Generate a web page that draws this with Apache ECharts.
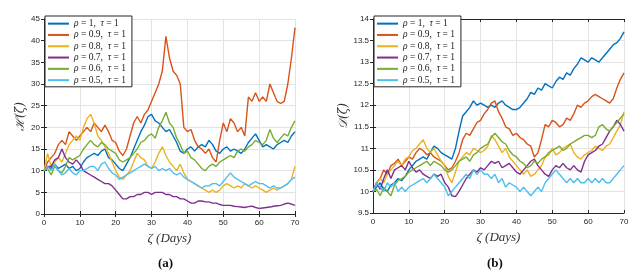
<!DOCTYPE html>
<html><head><meta charset="utf-8">
<script src="https://cdn.jsdelivr.net/npm/echarts@6/dist/echarts.min.js"></script>
<style>html,body{margin:0;padding:0;background:#fff}#c{width:641px;height:278px}</style>
</head><body><div id="c"></div>
<script>
const days = [];
for (let d = 0; d <= 70; d++) days.push(d);
const xTicks = [0,10,20,30,40,50,60,70];
const seriesNames = ['ρ = 1,  τ = 1','ρ = 0.9,  τ = 1','ρ = 0.8,  τ = 1','ρ = 0.7,  τ = 1','ρ = 0.6,  τ = 1','ρ = 0.5,  τ = 1'];
const colors = ['#0072BD','#D95319','#EDB120','#7E2F8E','#77AC30','#4DBEEE'];

// Panel (a): H(zeta)
const hRho10 = [10,11,10.5,11.5,10.5,11,11.5,10.5,11,10,10.5,12,13,13.5,14,13.5,14.5,15,13,12.5,11.5,10.5,10,11.5,13,15,17,19,20.5,22.5,23,21.5,21,20,19,19.5,18,16.5,14.5,14,15,15.5,14.5,15.5,16,15.5,17,16,14.5,14,15,15.5,14.5,15,14.5,14,15,16.5,17.5,18.5,17,15.5,16,15.5,15,16,16.5,17,16.5,18,19];
const hRho09 = [10,12,13,14,16,17,16,19,18,17,18,19,20,19,21,20,19,20.5,19,17,16.5,14.5,13.5,15,18,21,22.5,21,23,24,26,28,30,33,41,36,33,32,30,20,19,19.5,17,15.5,15,14,15,13,12,17,21,19,22,21,19,20,18,27,26,28,26,27,26,30,28,26,25.5,26,30,36,43];
const hRho08 = [10,14,11,12,13,12,14,16,17,18,17,20,22,23,21,18,17,15.5,14,12,10,8.5,8,9,10,12,14,13,12.5,11,10.5,12,14,15.5,13.5,12,11,10,11.5,9.5,8,7.5,7,6.5,6,5.5,5,5.5,5,5.5,6.5,7,6.5,6,6.5,6,7,6.5,6,6.5,6,5.5,5,5.5,6,5.5,6,6.5,7,8,11];
const hRho07 = [10,11,11,12.5,13,15,13,12,11.5,12.5,11.5,10,9.5,9,8.5,8,7.5,7,7,6.5,5.5,4.5,3.5,3.5,4,4,4.5,4.5,5,5,4.5,5,5,5,4.5,4.5,4,4,3.5,3.5,3,2.5,2.5,3,3,2.8,2.8,2.5,2.5,2.2,2,2,2,1.8,1.7,1.6,1.5,1.7,1.8,1.5,1.3,1.4,1.5,1.6,1.8,1.9,2,2.3,2.5,2.3,2];
const hRho06 = [10,10.5,9,11,10,9.5,11,13,12.5,13,13.5,15,16,17,16,15.5,16.5,16,15,14.5,14,12.5,12,12.5,13,14,15,16.5,17,18,18.5,17.5,20,21.5,23.5,21,20,17.5,16,14,14.5,13,12.5,11.5,10.5,10,11,11.5,11,12,12.5,13,13.5,13,14.5,15,14.5,15.5,16,17,16.5,16,17,19.5,17.5,16.5,17.5,18.5,18,20,21.5];
const hRho05 = [10,11,10,11.5,10,9,9.5,10.5,9.5,9,10,10,10.5,11,11,10,11.5,12,10.5,9.5,9,8,8.5,9,9.5,10,10.5,11,11.5,11,10.5,11,10,10.5,10,10.5,9.5,9,9.5,8.5,8,7.5,7,6.5,6,6.5,6.5,7,7,6.5,7.5,8.5,9.5,8.5,8,7.5,7,6.5,7,7.5,7,7,6.5,6,6.5,6,6,6.5,7,8,8.5];
const hTicks = [0,5,10,15,20,25,30,35,40,45];

// Panel (b): D(zeta)
const dRho10 = [10,10.1,10.2,10.05,10,10.15,10.2,10.3,10.25,10.35,10.5,10.6,10.7,10.75,10.8,10.75,10.9,11.05,11,10.9,10.85,10.8,10.75,11,11.4,11.75,11.85,11.95,12.1,12,12.05,12,11.95,12,11.95,12.05,12.1,12,11.95,11.9,11.9,11.95,12.05,12.15,12.3,12.25,12.4,12.35,12.5,12.45,12.4,12.55,12.65,12.6,12.75,12.7,12.85,12.95,13.1,13.05,13,13.1,13.05,13,13.1,13.2,13.3,13.4,13.45,13.55,13.7];
const dRho09 = [10,10.2,10.3,10.5,10.4,10.6,10.65,10.75,10.6,10.7,10.8,10.75,10.9,11,10.95,10.85,10.9,10.8,10.75,10.7,10.6,10.5,10.55,10.7,10.9,11.2,11.35,11.3,11.45,11.6,11.65,11.8,11.9,12.05,12.1,11.85,11.7,11.5,11.45,11.3,11.35,11.25,11.2,11.1,11.05,10.8,10.9,11.2,11.55,11.5,11.65,11.6,11.5,11.55,11.7,11.65,11.8,12,11.95,12.05,12.1,12.2,12.25,12.2,12.15,12.1,12.05,12.15,12.4,12.6,12.75];
const dRho08 = [10,10.2,10.3,10.2,10.4,10.5,10.6,10.7,10.6,10.75,10.8,10.95,11,11.1,11.2,11,10.9,11,10.85,10.7,10.6,10.35,10.2,10.45,10.7,10.8,10.9,10.85,11,10.95,10.9,10.95,11.05,11.3,11.2,11.05,10.9,11,10.8,10.7,10.6,10.5,10.4,10.5,10.35,10.4,10.5,10.6,10.8,10.85,11,10.85,10.9,11,11.05,11.1,10.9,10.8,10.75,10.85,10.9,10.95,11.05,11,10.95,11.05,11.1,11.25,11.4,11.55,11.85];
const dRho07 = [10,10.2,10.05,10.3,10.5,10.3,10.5,10.55,10.6,10.5,10.7,10.55,10.45,10.5,10.4,10.35,10.3,10.4,10.35,10.4,10.2,10.1,9.9,9.88,10,10.15,10.3,10.4,10.5,10.45,10.55,10.5,10.6,10.7,10.65,10.7,10.55,10.6,10.65,10.55,10.45,10.4,10.5,10.6,10.7,10.75,10.6,10.5,10.4,10.35,10.5,10.6,10.55,10.65,10.55,10.5,10.6,10.5,10.45,10.7,10.85,10.9,10.95,11.05,11.1,11.25,11.4,11.5,11.65,11.55,11.4];
const dRho06 = [10,10.05,9.9,10.1,10,9.9,10.15,10.25,10.3,10.35,10.45,10.5,10.55,10.6,10.65,10.7,10.6,10.7,10.65,10.6,10.5,10.45,10.5,10.6,10.7,10.75,10.8,10.7,10.85,10.9,11,11.05,11.1,11.25,11.35,11.25,11.15,11.1,10.95,10.85,10.8,10.7,10.65,10.55,10.6,10.7,10.65,10.75,10.8,10.9,10.95,11,11.05,10.95,11,11.1,11.15,11.2,11.25,11.3,11.3,11.25,11.3,11.5,11.55,11.45,11.4,11.5,11.6,11.7,11.8];
const dRho05 = [10,10.2,10.1,10,10.2,10.1,10.2,10,10.1,10,10.1,10.15,10.2,10.25,10.3,10.2,10.3,10.4,10.3,10.2,10.1,9.9,10,10.1,10.2,10.3,10.4,10.3,10.5,10.4,10.5,10.4,10.4,10.3,10.4,10.2,10.3,10.1,10.2,10.15,10.1,10,10.1,10,9.9,10,10.1,10,10.2,10.3,10.4,10.5,10.4,10.3,10.2,10.3,10.2,10.3,10.2,10.2,10.3,10.2,10.3,10.2,10.3,10.2,10.2,10.3,10.4,10.5,10.6];
const dTicks = [9.5,10,10.5,11,11.5,12,12.5,13,13.5,14];

const panelA = [hRho10,hRho09,hRho08,hRho07,hRho06,hRho05];
const panelB = [dRho10,dRho09,dRho08,dRho07,dRho06,dRho05];

const axisColor = '#262626';
const tickFont = {fontFamily:'Liberation Sans, Arial, sans-serif', fontSize:8, color:axisColor};
const gridLine = {show:true, lineStyle:{color:'#e3e3e3', width:1}};

function xAx(gi, pos) {
  const main = pos === 'bottom';
  return {
    type:'value', gridIndex:gi, position:pos, min:xTicks[0], max:xTicks[xTicks.length-1], interval:10,
    axisLine:{show:true, lineStyle:{color:axisColor, width:1}},
    axisTick:{show:true, inside:true, length:3, lineStyle:{color:axisColor}},
    axisLabel:{show:main, margin:5, ...tickFont},
    splitLine: main ? gridLine : {show:false},
    name: main ? 'ζ (Days)' : '', nameLocation:'middle', nameGap:17,
    nameTextStyle:{fontFamily:'Liberation Serif, DejaVu Serif, serif', fontStyle:'italic', fontSize:13, color:'#333'}
  };
}
function yAx(gi, pos, ticks, name, gap) {
  const main = pos === 'left';
  return {
    type:'value', gridIndex:gi, position:pos, min:ticks[0], max:ticks[ticks.length-1], interval:ticks[1]-ticks[0],
    axisLine:{show:true, lineStyle:{color:axisColor, width:1}},
    axisTick:{show:true, inside:true, length:3, lineStyle:{color:axisColor}},
    axisLabel:{show:main, margin:4, ...tickFont},
    splitLine: main ? gridLine : {show:false},
    name: main ? name : '', nameLocation:'middle', nameGap:gap, nameRotate:90,
    nameTextStyle:{fontFamily:'DejaVu Serif, Liberation Serif, serif', fontStyle:'italic', fontSize:12, color:'#333'}
  };
}

const series = [];
[panelA, panelB].forEach((panel, gi) => {
  panel.forEach((vals, k) => {
    series.push({
      name: seriesNames[k], type:'line', xAxisIndex: gi*2, yAxisIndex: gi*2,
      data: days.map((d,i) => [d, vals[i]]),
      showSymbol:false, symbol:'none', smooth:false,
      lineStyle:{color:colors[k], width:1.4}, itemStyle:{color:colors[k]},
      animation:false, z: 2+k
    });
  });
});

function legend(left) {
  return {
    data: seriesNames, orient:'vertical', left:left, top:16, itemGap:0,
    itemWidth:21, itemHeight:2, icon:'rect',
    backgroundColor:'#fff', borderColor:'#262626', borderWidth:1, padding:[2,6,1,3],
    formatter: n => n.replace('ρ','{i|ρ}').replace('τ','{i|τ}'),
    textStyle:{fontFamily:'Liberation Serif, serif', fontSize:9.5, color:'#222', lineHeight:11.3,
      rich:{i:{fontFamily:'Liberation Serif, serif', fontStyle:'italic', fontSize:9.5, color:'#222'}}},
    selectedMode:false
  };
}

const chart = echarts.init(document.getElementById('c'), null, {renderer:'canvas'});
chart.setOption({
  animation:false,
  backgroundColor:'#fff',
  title:[
    {text:'(a)', left:153, top:252, textStyle:{fontFamily:'Liberation Serif, serif', fontWeight:'bold', fontSize:13, color:'#111'}},
    {text:'(b)', left:482, top:252, textStyle:{fontFamily:'Liberation Serif, serif', fontWeight:'bold', fontSize:13, color:'#111'}}
  ],
  legend:[legend(45), legend(374)],
  grid:[
    {left:44, top:19, width:251, height:195, show:false},
    {left:373, top:19, width:251, height:194, show:false}
  ],
  xAxis:[xAx(0,'bottom'), xAx(0,'top'), xAx(1,'bottom'), xAx(1,'top')],
  yAxis:[yAx(0,'left',hTicks,'ℋ(ζ)',14), yAx(0,'right',hTicks,'',0), yAx(1,'left',dTicks,'𝒟(ζ)',14), yAx(1,'right',dTicks,'',0)],
  series: series
});
</script></body></html>
